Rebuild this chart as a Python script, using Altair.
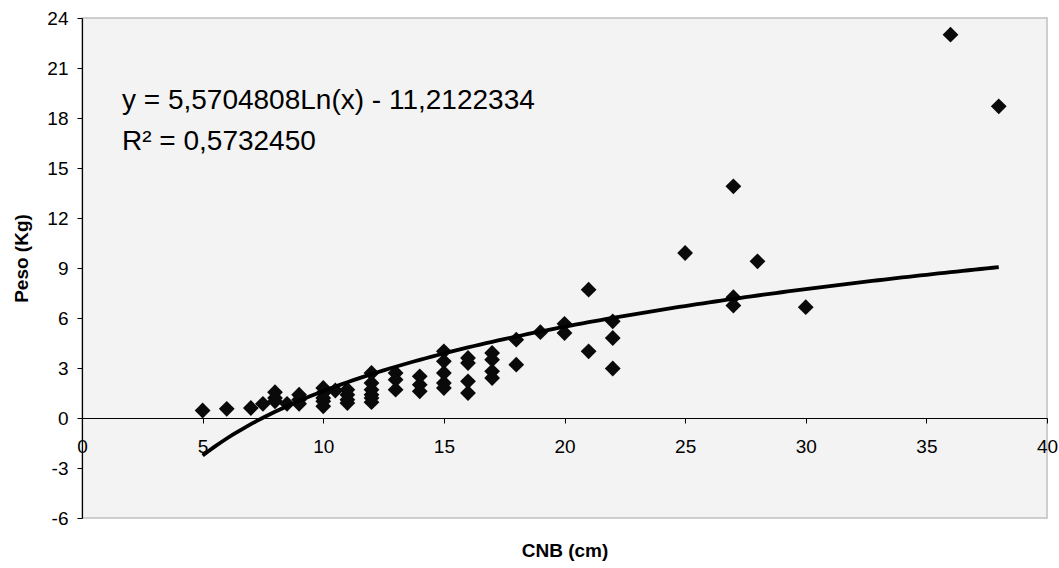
import altair as alt
import pandas as pd

# Data
cnb = [5, 6, 7, 7.5, 8, 8, 8, 8.5, 9, 9, 9,
       10, 10, 10, 10, 10, 10.5, 11, 11, 11, 11,
       12, 12, 12, 12, 12, 12, 13, 13, 13, 14, 14, 14,
       15, 15, 15, 15, 15, 16, 16, 16, 16, 17, 17, 17, 17,
       18, 18, 19, 20, 20, 21, 21, 22, 22, 22,
       25, 27, 27, 27, 28, 30, 36, 38]
peso = [0.45, 0.55, 0.6, 0.85, 1.55, 1.2, 1.0, 0.85, 1.4, 1.1, 0.85,
        1.8, 1.5, 1.2, 1.0, 0.7, 1.65, 1.7, 1.4, 1.1, 0.9,
        2.7, 2.1, 1.7, 1.4, 1.2, 0.95, 2.7, 2.3, 1.7, 2.5, 2.0, 1.6,
        4.0, 3.4, 2.7, 2.1, 1.8, 3.6, 3.3, 2.2, 1.5, 3.9, 3.5, 2.8, 2.4,
        4.7, 3.2, 5.15, 5.65, 5.1, 7.7, 4.0, 5.8, 4.8, 2.97,
        9.9, 13.9, 7.25, 6.75, 9.4, 6.65, 23.0, 18.7]

x_ticks = [0, 5, 10, 15, 20, 25, 30, 35, 40]
y_ticks = [-6, -3, 0, 3, 6, 9, 12, 15, 18, 21, 24]

# Trendline as printed on the chart: y = a*Ln(x) + b, drawn over x in [5, 38]
trend_a = 5.5704808
trend_b = -11.2122334
trend_range = [5, 38]

eq_line = "y = 5,5704808Ln(x) - 11,2122334"
r2_line = "R\u00b2 = 0,5732450"

df = pd.DataFrame({"CNB": cnb, "Peso": peso})

FONT = "Liberation Sans"
W, H = 965, 500

x_enc = alt.X(
    "CNB:Q",
    scale=alt.Scale(domain=[0, 40], nice=False, zero=False),
    axis=alt.Axis(
        values=x_ticks, title="CNB (cm)", offset=-100, grid=False, labelFlush=False,
        domainColor="black", domainWidth=1.2, tickColor="black", tickSize=5,
        labelFontSize=19, labelFont=FONT, labelColor="black", labelPadding=14,
        labelExpr="'' + datum.value",
        titleFont=FONT, titleFontSize=19, titleFontWeight="bold", titleColor="black",
        titleX=W / 2, titleY=132, titleBaseline="middle", titleAlign="center",
    ),
)
y_enc = alt.Y(
    "Peso:Q",
    scale=alt.Scale(domain=[-6, 24], nice=False, zero=False),
    axis=alt.Axis(
        values=y_ticks, title="Peso (Kg)", grid=False, labelFlush=False,
        domainColor="black", domainWidth=1.2, tickColor="black", tickSize=5,
        labelFontSize=19, labelFont=FONT, labelColor="black", labelPadding=9,
        labelExpr="'' + datum.value",
        titleFont=FONT, titleFontSize=19, titleFontWeight="bold", titleColor="black",
        titleX=-61, titleY=240, titleAngle=270, titleBaseline="middle", titleAlign="center",
    ),
)

points = alt.Chart(df).mark_point(
    shape="diamond", filled=True, color="#0a0a0a", size=250, opacity=1
).encode(x=x_enc, y=y_enc)

trend = alt.Chart(
    alt.sequence(trend_range[0], trend_range[1] + 0.001, 0.25, as_="CNB")
).transform_calculate(
    Peso=f"{trend_a} * log(datum.CNB) + ({trend_b})"
).mark_line(color="black", strokeWidth=3.8).encode(x=x_enc, y=y_enc)

eq_text = alt.Chart(pd.DataFrame({"t": [eq_line]})).mark_text(
    align="left", baseline="alphabetic", fontSize=28, font=FONT, color="black"
).encode(text="t:N", x=alt.value(40), y=alt.value(91))

r2_text = alt.Chart(pd.DataFrame({"t": [r2_line]})).mark_text(
    align="left", baseline="alphabetic", fontSize=28, font=FONT, color="black"
).encode(text="t:N", x=alt.value(40), y=alt.value(132))

chart = alt.layer(points, trend, eq_text, r2_text).properties(
    width=W, height=H,
    autosize=alt.AutoSizeParams(type="none"),
    padding={"left": 82, "top": 18, "right": 12, "bottom": 50},
    background="white",
).configure_view(
    fill="#f3f3f3", stroke="#c0c0c0", strokeWidth=1.5
)

chart.save("out.html", embed_options={"renderer": "svg", "actions": False})
